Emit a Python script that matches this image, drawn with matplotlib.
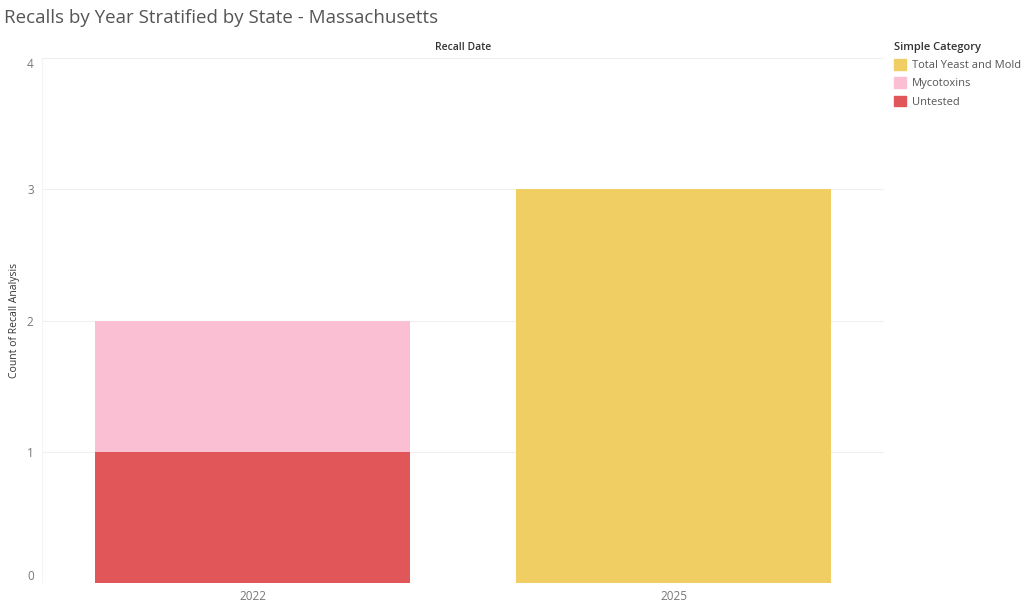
import matplotlib.pyplot as plt
from matplotlib.patches import Patch

plt.rcParams['font.family'] = ['Open Sans', 'DejaVu Sans']

# Data
years = ["2022", "2025"]
untested = [1, 0]
mycotoxins = [1, 0]
yeast_mold = [0, 3]

c_yeast = "#F1CE63"
c_myco = "#FABFD2"
c_untested = "#E15759"

fig = plt.figure(figsize=(10.24, 6.03), dpi=100)
ax = fig.add_axes([42 / 1024, 1 - 583 / 603, 842 / 1024, 525 / 603])

x = range(len(years))
ax.bar(x, untested, width=0.75, color=c_untested, zorder=2)
ax.bar(x, mycotoxins, width=0.75, bottom=untested, color=c_myco, zorder=2)
bottom2 = [u + m for u, m in zip(untested, mycotoxins)]
ax.bar(x, yeast_mold, width=0.75, bottom=bottom2, color=c_yeast, zorder=2)

ax.set_xlim(-0.5, 1.5)
ax.set_ylim(0, 4)
ax.set_xticks(list(x))
ax.set_xticklabels(years)
ax.set_yticks([0, 1, 2, 3, 4])
ax.tick_params(axis="both", length=0, colors="#777777", labelsize=8.5)
ax.tick_params(axis="y", pad=6)
ax.tick_params(axis="x", pad=5)
yl = ax.get_yticklabels()
yl[0].set_va("bottom")
yl[-1].set_va("top")
ax.grid(axis="y", color="#f0f0f0", linewidth=0.8, zorder=0)
for s in ax.spines.values():
    s.set_visible(False)
ax.axvline(-0.5, color="#f4f4f4", linewidth=0.8, zorder=1)

fig.text(15 / 1024, 1 - 320 / 603, "Count of Recall Analysis", fontsize=7.5, color="#333333",
         rotation=90, ha="center", va="center")

fig.text(4 / 1024, 1 - 18 / 603, "Recalls by Year Stratified by State - Massachusetts",
         fontsize=13.5, color="#555555", va="center", ha="left")
fig.text(463 / 1024, 1 - 48 / 603, "Recall Date", fontsize=7.5, color="#333333",
         fontweight="semibold", ha="center", va="center")

handles = [Patch(color=c_yeast, label="Total Yeast and Mold"),
           Patch(color=c_myco, label="Mycotoxins"),
           Patch(color=c_untested, label="Untested")]
leg = fig.legend(handles=handles, loc="upper left", bbox_to_anchor=(894 / 1024, 1 - 42 / 603),
                 frameon=False, fontsize=8, title="Simple Category", title_fontsize=8,
                 handlelength=1.1, handleheight=1.1, handletextpad=0.5, labelspacing=0.55,
                 borderaxespad=0, borderpad=0)
leg._legend_box.align = "left"
leg.get_title().set_fontweight("semibold")
leg.get_title().set_color("#333333")
for t in leg.get_texts():
    t.set_color("#555555")

fig.savefig("out.png", dpi=100)
